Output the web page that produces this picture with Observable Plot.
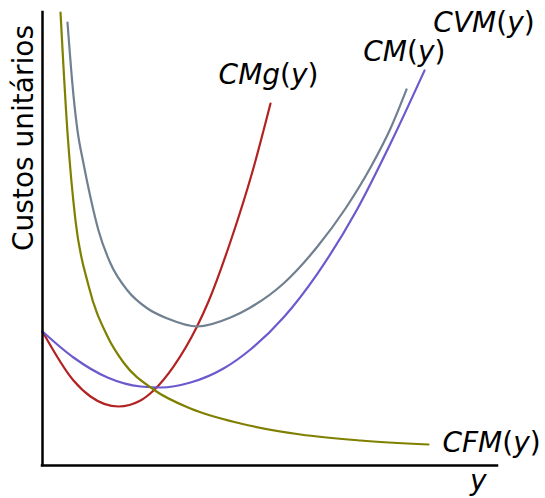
<!DOCTYPE html>
<html><head><meta charset="utf-8">
<script src="https://cdn.jsdelivr.net/npm/d3@7"></script>
<script src="https://cdn.jsdelivr.net/npm/@observablehq/plot@0.6"></script>
<style>html,body{margin:0;padding:0;background:#fff}</style>
</head><body><div id="chart"></div>
<script>
// Marginal cost CMg(y)
const cmgX = [0.000, 0.681, 1.055, 1.670, 2.154, 2.440, 2.879, 3.385, 3.648, 4.132, 4.615, 5.011];
const cmgY = [2.958, 1.876, 1.523, 1.302, 1.435, 1.656, 2.185, 3.046, 3.620, 4.945, 6.490, 7.991];
// Average cost CM(y)
const cmX = [0.549, 0.681, 0.769, 0.901, 1.055, 1.231, 1.495, 1.868, 2.308, 2.747, 3.407, 4.132, 4.571, 5.297, 6.044, 6.659, 7.209, 7.648, 8.000];
const cmY = [9.779, 8.167, 7.395, 6.667, 5.916, 5.188, 4.459, 3.863, 3.466, 3.245, 3.068, 3.267, 3.488, 4.018, 4.834, 5.673, 6.578, 7.439, 8.300];
// Average variable cost CVM(y)
const cvmX = [0.000, 0.681, 1.429, 2.154, 2.593, 3.253, 3.978, 4.571, 5.297, 6.044, 6.901, 7.648, 8.396];
const cvmY = [2.958, 2.384, 1.943, 1.744, 1.722, 1.832, 2.141, 2.561, 3.267, 4.238, 5.629, 7.108, 8.720];
// Average fixed cost CFM(y)
const cfmX = [0.396, 0.549, 0.725, 1.011, 1.429, 1.780, 2.440, 3.253, 4.352, 5.670, 6.989, 8.484];
const cfmY = [10.00, 7.351, 5.408, 3.974, 2.848, 2.274, 1.678, 1.258, 0.927, 0.684, 0.552, 0.464];

const seriesNames = ["CMg", "CM", "CVM", "CFM"];
const seriesColors = ["#b22222", "#708090", "#6a5acd", "#808000"];

const labelText = ["CMg(y)", "CM(y)", "CVM(y)", "CFM(y)"];
const labelX = [3.87, 7.05, 8.59, 8.79];
const labelY = [8.43, 8.94, 9.58, 0.29];

const yTitle = "Custos unitários";
const xTitle = "y";

function toRows(name, xs, ys) { return xs.map((x, i) => ({series: name, x, y: ys[i]})); }
const curves = [
  toRows("CMg", cmgX, cmgY),
  toRows("CM", cmX, cmY),
  toRows("CVM", cvmX, cvmY),
  toRows("CFM", cfmX, cfmY)
].flat();
const labelRows = labelText.map((t, i) => ({t, x: labelX[i], y: labelY[i]}));

const FS = 28;
const chart = Plot.plot({
  width: 545,
  height: 498,
  marginLeft: 42,
  marginRight: 48,
  marginTop: 12,
  marginBottom: 33,
  style: {fontFamily: "DejaVu Sans", background: "white"},
  x: {domain: [0, 10], axis: null},
  y: {domain: [0, 10], axis: null},
  color: {domain: seriesNames, range: seriesColors},
  marks: [
    Plot.line(curves, {x: "x", y: "y", z: "series", stroke: "series", strokeWidth: 2.2, curve: "monotone-x"}),
    Plot.ruleX([0], {stroke: "black", strokeWidth: 2.5, strokeLinecap: "square"}),
    Plot.ruleY([0], {stroke: "black", strokeWidth: 2.5, strokeLinecap: "square"}),
    Plot.text(labelRows, {x: "x", y: "y", text: "t", textAnchor: "start", lineAnchor: "bottom", fontSize: FS, fontStyle: "italic", fill: "black"}),
    Plot.text([xTitle], {x: () => 9.58, y: () => -0.53, text: d => d, textAnchor: "middle", lineAnchor: "bottom", fontSize: FS, fontStyle: "italic", fill: "black"}),
    Plot.text([yTitle], {x: () => -0.2, y: () => 7.23, text: d => d, rotate: -90, textAnchor: "middle", lineAnchor: "bottom", fontSize: FS, fill: "black"})
  ]
});
// math-style labels: italic letters, upright parentheses
for (const t of chart.querySelectorAll("text")) {
  const s = t.textContent;
  if (!s.includes("(")) continue;
  while (t.firstChild) t.removeChild(t.firstChild);
  for (const p of s.match(/[()]|[^()]+/g)) {
    const ts = document.createElementNS("http://www.w3.org/2000/svg", "tspan");
    ts.textContent = p;
    ts.setAttribute("font-style", (p === "(" || p === ")") ? "normal" : "italic");
    t.appendChild(ts);
  }
}
document.getElementById("chart").appendChild(chart);
</script>
</body></html>
